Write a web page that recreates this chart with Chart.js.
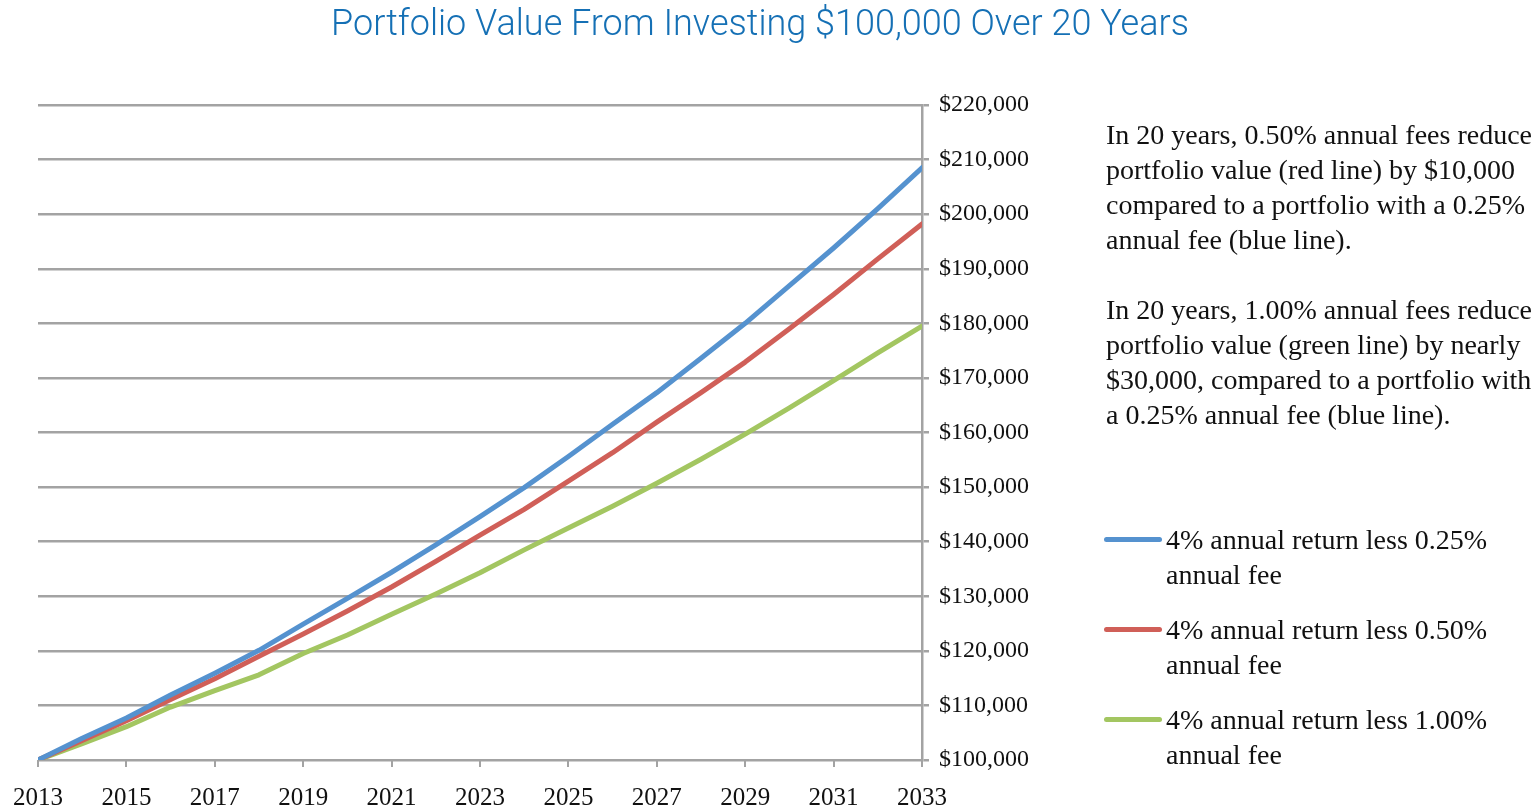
<!DOCTYPE html>
<html lang="en">
  <head>
    <meta charset="UTF-8" />
    <meta name="viewport" content="width=device-width, initial-scale=1.0" />
    <script src="https://cdn.jsdelivr.net/npm/chart.js@4.4.1/dist/chart.umd.min.js"></script>
    <title>Portfolio Value From Investing $100,000 Over 20 Years</title>
    <style>
      body { margin: 0; background: #fff; }
      #wrap { position: relative; width: 1539px; height: 812px; }
      #title {
        position: absolute; top: 0; left: 0; width: 1520px; text-align: center;
        font-family: Roboto, "Open Sans", sans-serif; font-weight: 300;
        font-size: 36px; line-height: 46px; color: #1570b5;
      }
      #note {
        position: absolute; left: 1106px; top: 117px; white-space: nowrap;
        font-family: "Liberation Serif", serif; font-size: 28px; line-height: 35px; color: #111;
      }
      #note p { margin: 0 0 35px 0; }
      #legend { position: absolute; left: 1104px; top: 522px; }
      .item { position: relative; height: 70px; margin-bottom: 20px; }
      .swatch { position: absolute; left: 0; top: 15px; width: 58px; height: 5px; border-radius: 3px; }
      .label {
        position: absolute; left: 62px; top: 0; width: 345px;
        font-family: "Liberation Serif", serif; font-size: 28px; line-height: 35px; color: #111;
      }
    </style>
  </head>
  <body>
    <div id="wrap">
      <canvas id="myChart" width="1539" height="812"></canvas>
      <div id="title">Portfolio Value From Investing $100,000 Over 20 Years</div>
      <div id="note">
        <p>In 20 years, 0.50% annual fees reduce<br>portfolio value (red line) by $10,000<br>compared to a portfolio with a 0.25%<br>annual fee (blue line).</p>
        <p>In 20 years, 1.00% annual fees reduce<br>portfolio value (green line) by nearly<br>$30,000, compared to a portfolio with<br>a 0.25% annual fee (blue line).</p>
      </div>
      <div id="legend"></div>
    </div>

    <script>
      const years = [2013, 2014, 2015, 2016, 2017, 2018, 2019, 2020, 2021, 2022, 2023,
                     2024, 2025, 2026, 2027, 2028, 2029, 2030, 2031, 2032, 2033];
      const fee025 = [100000, 104000, 107700, 111900, 115900, 120100, 124900, 129600, 134400, 139400, 144600,
                      149900, 155600, 161500, 167300, 173600, 180000, 186900, 193800, 201000, 208500];
      const fee050 = [100000, 103600, 107200, 111100, 114900, 119000, 123100, 127300, 131700, 136400, 141200,
                      145900, 151100, 156300, 161900, 167300, 172900, 179000, 185300, 191800, 198200];
      const fee100 = [100000, 103000, 106100, 109700, 112700, 115600, 119500, 122900, 126700, 130400, 134300,
                      138500, 142500, 146500, 150700, 155100, 159700, 164500, 169500, 174600, 179500];
      const xTicks = [2013, 2015, 2017, 2019, 2021, 2023, 2025, 2027, 2029, 2031, 2033];
      const seriesNames = [
        "4% annual return less 0.25% annual fee",
        "4% annual return less 0.50% annual fee",
        "4% annual return less 1.00% annual fee",
      ];
      const colors = ["#5592cf", "#d05f58", "#a3c661"];
      const gridColor = "#a3a3a3";

      const toPoints = (vals) => vals.map((v, i) => ({ x: years[i], y: v }));

      Chart.defaults.animation = false;
      const ctx = document.getElementById("myChart").getContext("2d");
      const myChart = new Chart(ctx, {
        type: "line",
        data: {
          datasets: [fee025, fee050, fee100].map((vals, i) => ({
            label: seriesNames[i],
            data: toPoints(vals),
            borderColor: colors[i],
            backgroundColor: colors[i],
            borderWidth: 5,
            pointRadius: 0,
            tension: 0,
            borderJoinStyle: "round",
            borderCapStyle: "round",
          })),
        },
        options: {
          responsive: false,
          layout: { padding: { left: 38, right: 497, top: 105, bottom: 0 } },
          plugins: { legend: { display: false }, tooltip: { enabled: false } },
          scales: {
            x: {
              type: "linear",
              min: 2013,
              max: 2033,
              afterBuildTicks: (s) => { s.ticks = xTicks.map((v) => ({ value: v })); },
              afterFit: (s) => { s.height = 52; s.paddingLeft = 0; s.paddingRight = 0; },
              grid: { drawOnChartArea: false, color: gridColor, lineWidth: 2, tickLength: 7 },
              border: { display: false },
              ticks: {
                padding: 16,
                maxRotation: 0,
                color: "#111",
                font: { family: "Liberation Serif", size: 25 },
                callback: (v) => String(v),
              },
            },
            y: {
              position: "right",
              min: 100000,
              max: 220000,
              afterFit: (s) => { s.width = 120; },
              grid: { color: gridColor, lineWidth: 2.5, tickLength: 7 },
              border: { color: gridColor, width: 2.5 },
              ticks: {
                stepSize: 10000,
                padding: 10,
                color: "#111",
                font: { family: "Liberation Serif", size: 24 },
                callback: (v) => "$" + v.toLocaleString("en-US"),
              },
            },
          },
        },
      });

      // html legend, text wraps like the original
      const legend = document.getElementById("legend");
      myChart.data.datasets.forEach((ds) => {
        const item = document.createElement("div");
        item.className = "item";
        item.innerHTML = '<div class="swatch" style="background:' + ds.borderColor + '"></div>' +
          '<div class="label">' + ds.label + "</div>";
        legend.appendChild(item);
      });
    </script>
  </body>
</html>
